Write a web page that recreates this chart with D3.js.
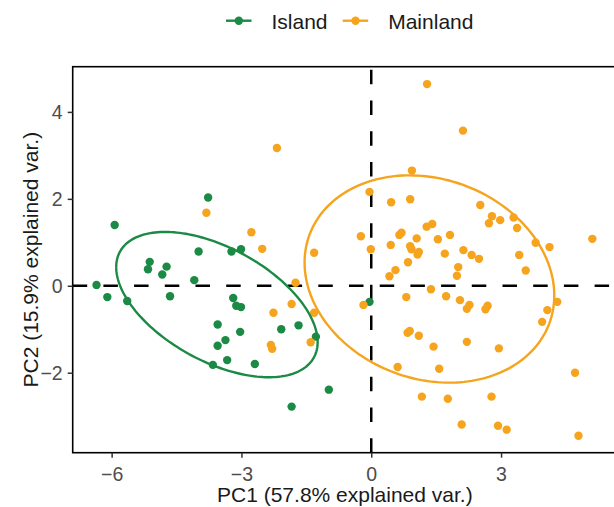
<!DOCTYPE html>
<html lang="en">
<head>
  <meta charset="UTF-8">
  <title>PCA biplot: Island vs Mainland</title>
  <script src="https://d3js.org/d3.v7.min.js"></script>
  <style>
    body { margin: 0; background: #fff; }
    svg { display: block; font-family: "Liberation Sans", Arial, sans-serif; }
  </style>
</head>
<body>
  <script>
    // scores (PC1, PC2)
    const islandX = [-3.77, -5.93, -3.99, -3.23, -3.01, -5.12, -5.16, -4.73, -4.83, -4.09,
                     -6.35, -6.10, -5.64, -4.65, -3.19, -3.12, -3.01, -3.55, -3.03, -2.08,
                     -1.68, -3.37, -3.55, -1.28, -3.33, -3.66, -2.69, -0.98, -1.84, -0.04];
    const islandY = [2.03, 1.40, 0.79, 0.79, 0.84, 0.55, 0.38, 0.44, 0.26, 0.13,
                     0.02, -0.26, -0.35, -0.24, -0.28, -0.46, -0.49, -0.89, -1.06, -1.00,
                     -0.91, -1.25, -1.38, -1.17, -1.71, -1.82, -1.80, -2.39, -2.78, -0.37];

    const mainlandX = [-3.81, -2.77, -2.52, -1.32, -1.75, -1.84, -2.26, -1.32, -1.40, -2.32,
                       -2.29, -2.18, 1.29, 2.12, 0.94, -0.04, 0.46, 0.90, 2.52, 2.79,
                       2.72, 2.98, 3.29, 3.37, 5.11, -0.24, -0.01, 0.45, 0.65, 0.70,
                       1.28, 1.41, 1.05, 1.54, 1.82, 0.90, 0.93, 1.10, 1.07, 1.70,
                       2.13, 2.32, 2.49, 3.42, 3.80, 4.12, 0.85, 0.56, 0.42, 2.01,
                       1.98, 3.57, 1.38, 0.81, 1.73, 2.05, 2.27, 2.21, 2.69, 2.64,
                       -0.18, 4.30, 4.07, 3.95, 0.89, 0.84, 1.10, 1.44, 2.21, 2.95,
                       0.61, 1.57, 4.71, 1.17, 1.77, 2.78, 2.09, 2.93, 3.13, 4.79];
    const mainlandY = [1.68, 1.23, 0.85, 0.76, 0.07, -0.42, -0.62, -0.62, -1.30, -1.36,
                       -1.45, 3.17, 4.64, 3.57, 2.65, 2.16, 1.92, 1.99, 1.86, 1.60,
                       1.44, 1.51, 1.57, 1.33, 1.08, 1.14, 0.84, 0.94, 1.17, 1.22,
                       1.36, 1.42, 1.09, 1.07, 1.17, 0.91, 0.84, 0.78, 0.72, 0.74,
                       0.82, 0.71, 0.62, 0.71, 0.99, 0.89, 0.54, 0.36, 0.22, 0.43,
                       0.23, 0.35, -0.08, -0.26, -0.24, -0.33, -0.44, -0.53, -0.46, -0.54,
                       -0.44, -0.37, -0.56, -0.83, -1.04, -1.08, -1.15, -1.40, -1.29, -1.44,
                       -1.87, -1.91, -2.00, -2.55, -2.60, -2.55, -3.19, -3.22, -3.31, -3.45];

    const groups = ["Island", "Mainland"];
    const groupColors = ["#1b8a45", "#f6a41e"];
    const xTicks = [-6, -3, 0, 3];
    const yTicks = [-2, 0, 2, 4];
    const xTitle = "PC1 (57.8% explained var.)";
    const yTitle = "PC2 (15.9% explained var.)";
    const ellipseProb = 0.68;

    const width = 614, height = 507;
    const panel = { left: 72.7, right: 617, top: 66.7, bottom: 452.7 };

    const svg = d3.select("body").append("svg")
      .attr("width", width)
      .attr("height", height);

    const x = d3.scaleLinear().domain([-6.9, 5.68]).range([panel.left, panel.right]);
    const y = d3.scaleLinear().domain([-3.84, 5.04]).range([panel.bottom, panel.top]);
    const color = d3.scaleOrdinal().domain(groups).range(groupColors);

    const data = [
      ...islandX.map((v, i) => ({ group: "Island", pc1: v, pc2: islandY[i] })),
      ...mainlandX.map((v, i) => ({ group: "Mainland", pc1: v, pc2: mainlandY[i] }))
    ];

    // normal-probability ellipse per group, like ggbiplot
    function ellipse(rows) {
      const n = rows.length;
      const mx = d3.mean(rows, d => d.pc1), my = d3.mean(rows, d => d.pc2);
      const sxx = d3.sum(rows, d => (d.pc1 - mx) ** 2) / (n - 1);
      const syy = d3.sum(rows, d => (d.pc2 - my) ** 2) / (n - 1);
      const sxy = d3.sum(rows, d => (d.pc1 - mx) * (d.pc2 - my)) / (n - 1);
      const r11 = Math.sqrt(sxx), r12 = sxy / r11, r22 = Math.sqrt(syy - r12 * r12);
      const ed = Math.sqrt(-2 * Math.log(1 - ellipseProb));
      return d3.range(0, 201).map(i => {
        const t = -Math.PI + 2 * Math.PI * i / 200;
        const c = Math.cos(t), s = Math.sin(t);
        return [mx + ed * c * r11, my + ed * (c * r12 + s * r22)];
      });
    }

    svg.append("defs").append("clipPath").attr("id", "clip")
      .append("rect")
      .attr("x", panel.left).attr("y", panel.top)
      .attr("width", panel.right - panel.left)
      .attr("height", panel.bottom - panel.top);

    const plot = svg.append("g").attr("clip-path", "url(#clip)");

    // reference lines through the origin
    plot.append("line")
      .attr("x1", panel.left).attr("x2", panel.right)
      .attr("y1", y(0)).attr("y2", y(0))
      .attr("stroke", "#000").attr("stroke-width", 2.5)
      .attr("stroke-dasharray", "14.5,16.2");
    plot.append("line")
      .attr("x1", x(0)).attr("x2", x(0))
      .attr("y1", panel.bottom).attr("y2", panel.top)
      .attr("stroke", "#000").attr("stroke-width", 2.5)
      .attr("stroke-dasharray", "14.5,16.2");

    plot.selectAll("circle")
      .data(data)
      .join("circle")
      .attr("cx", d => x(d.pc1))
      .attr("cy", d => y(d.pc2))
      .attr("r", 4.2)
      .attr("fill", d => color(d.group));

    const line = d3.line().x(d => x(d[0])).y(d => y(d[1]));
    groups.forEach(g => {
      plot.append("path")
        .attr("d", line(ellipse(data.filter(d => d.group === g))))
        .attr("fill", "none")
        .attr("stroke", color(g))
        .attr("stroke-width", 2.4);
    });

    // panel border
    svg.append("rect")
      .attr("x", panel.left).attr("y", panel.top)
      .attr("width", panel.right - panel.left)
      .attr("height", panel.bottom - panel.top)
      .attr("fill", "none")
      .attr("stroke", "#000")
      .attr("stroke-width", 1.6);

    // axes
    const xAxis = svg.append("g")
      .attr("transform", `translate(0,${panel.bottom})`)
      .call(d3.axisBottom(x).tickValues(xTicks).tickSize(5).tickPadding(3));
    const yAxis = svg.append("g")
      .attr("transform", `translate(${panel.left},0)`)
      .call(d3.axisLeft(y).tickValues(yTicks).tickSize(5).tickPadding(3));
    [xAxis, yAxis].forEach(a => {
      a.select(".domain").remove();
      a.selectAll(".tick line").attr("stroke", "#333").attr("stroke-width", 1.5);
      a.selectAll(".tick text")
        .attr("fill", "#4d4d4d")
        .attr("font-size", 19.5)
        .attr("font-family", "Liberation Sans, Arial, sans-serif");
    });
    xAxis.selectAll(".tick text").attr("dy", null).attr("y", 28);
    yAxis.selectAll(".tick text").attr("dy", "0.36em").attr("x", -10);

    svg.append("text")
      .attr("x", (panel.left + panel.right) / 2)
      .attr("y", 501.5)
      .attr("text-anchor", "middle")
      .attr("font-size", 21)
      .attr("fill", "#1a1a1a")
      .text(xTitle);

    svg.append("text")
      .attr("transform", `translate(38,${(panel.top + panel.bottom) / 2}) rotate(-90)`)
      .attr("text-anchor", "middle")
      .attr("font-size", 21)
      .attr("fill", "#1a1a1a")
      .text(yTitle);

    // legend
    const legendPos = [226, 342.7];
    const legend = svg.append("g")
      .selectAll("g")
      .data(groups)
      .join("g")
      .attr("transform", (d, i) => `translate(${legendPos[i]},20.7)`);
    legend.append("line")
      .attr("x1", 0).attr("x2", 25.5)
      .attr("stroke", d => color(d))
      .attr("stroke-width", 2.4);
    legend.append("circle")
      .attr("cx", 12.8).attr("r", 4.2)
      .attr("fill", d => color(d));
    legend.append("text")
      .attr("x", 45.5).attr("y", 8.6)
      .attr("font-size", 21)
      .attr("fill", "#1a1a1a")
      .text(d => d);
  </script>
</body>
</html>
